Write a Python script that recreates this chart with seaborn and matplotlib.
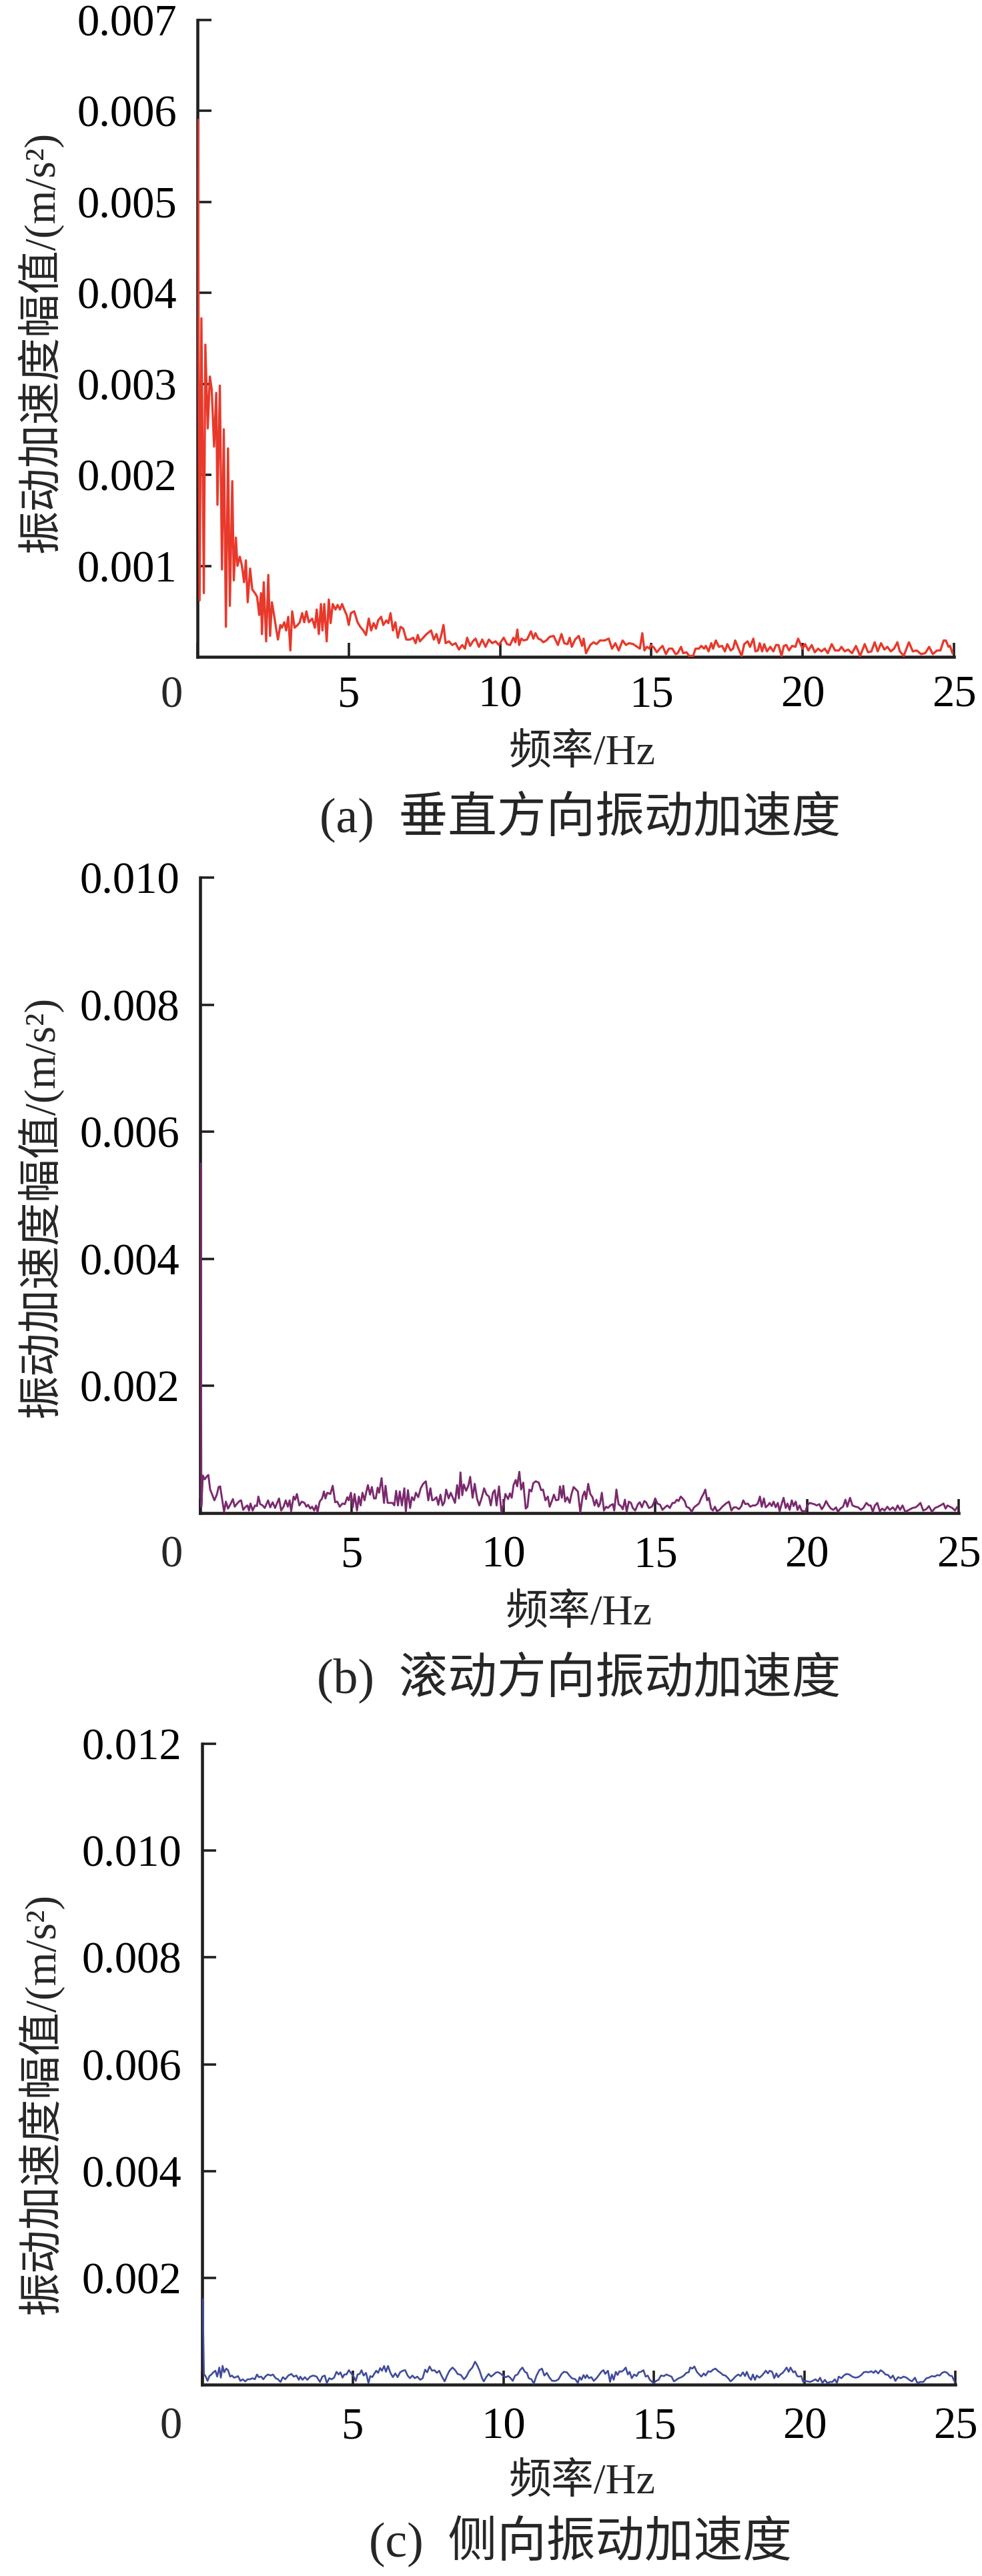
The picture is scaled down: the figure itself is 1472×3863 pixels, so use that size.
import matplotlib
matplotlib.use("Agg")
import matplotlib.pyplot as plt
import seaborn as sns

# ---- data ----
# (a) vertical acceleration spectrum
freq_a = [
    0.02, 0.04, 0.07, 0.13, 0.21, 0.26, 0.34, 0.41, 0.47, 0.55,
    0.62, 0.66, 0.74, 0.81, 0.87, 0.94, 1.01, 1.07, 1.15, 1.20,
    1.27, 1.32, 1.40, 1.47, 1.54, 1.60, 1.66, 1.74, 1.81, 1.90,
    1.97, 2.04, 2.10, 2.13, 2.19, 2.27, 2.34, 2.40, 2.46, 2.54,
    2.59, 2.66, 2.74, 2.79, 2.87, 2.93, 3.00, 3.07, 3.13, 3.21,
    3.31, 3.38, 3.46, 3.53, 3.60, 3.68, 3.79, 3.88, 3.94, 4.01,
    4.08, 4.13, 4.19, 4.27, 4.34, 4.40, 4.47, 4.56, 4.63, 4.71,
    4.78, 4.85, 4.93, 5.00, 5.07, 5.18, 5.29, 5.38, 5.48, 5.57,
    5.66, 5.74, 5.82, 5.90, 5.97, 6.07, 6.14, 6.24, 6.31, 6.38,
    6.46, 6.54, 6.62, 6.71, 6.80, 6.90, 7.02, 7.13, 7.21, 7.28,
    7.35, 7.46, 7.57, 7.72, 7.81, 7.90, 7.98, 8.05, 8.13, 8.20,
    8.31, 8.42, 8.53, 8.64, 8.75, 8.84, 8.91, 9.01, 9.10, 9.19,
    9.30, 9.41, 9.52, 9.63, 9.74, 9.85, 9.96,
    10.12, 10.23, 10.33, 10.44, 10.51, 10.57, 10.63, 10.70, 10.78, 10.89,
    11.02, 11.10, 11.17, 11.26, 11.34, 11.43, 11.53, 11.64, 11.77, 11.91,
    12.03, 12.12, 12.23, 12.30, 12.37, 12.48, 12.60, 12.71, 12.76, 12.84,
    12.98, 13.09, 13.19, 13.30, 13.46, 13.59, 13.70, 13.81, 13.92, 14.05,
    14.16, 14.26, 14.40, 14.53, 14.62, 14.70, 14.77, 14.85, 14.94, 14.98,
    15.09, 15.18, 15.28, 15.37, 15.48, 15.58, 15.69, 15.80, 15.87, 15.98,
    16.05, 16.16, 16.25, 16.38, 16.46, 16.57, 16.65, 16.74, 16.80, 16.89,
    16.98, 17.04, 17.13, 17.23, 17.34, 17.43, 17.51, 17.62, 17.70, 17.77,
    17.88, 17.98, 18.07, 18.18, 18.26, 18.37, 18.44, 18.52, 18.58, 18.66,
    18.73, 18.82, 18.93, 19.03, 19.12, 19.20, 19.30, 19.38, 19.46, 19.55,
    19.65, 19.76, 19.85, 19.94, 20.00, 20.08, 20.19, 20.30, 20.40, 20.51,
    20.62, 20.73, 20.83, 20.96, 21.07, 21.20, 21.28, 21.39, 21.50, 21.63,
    21.76, 21.90, 22.05, 22.16, 22.27, 22.38, 22.48, 22.59, 22.70, 22.80,
    22.91, 23.02, 23.13, 23.21, 23.34, 23.51, 23.64, 23.77, 23.91, 24.05,
    24.18, 24.30, 24.44, 24.55, 24.66, 24.73, 24.82, 24.87, 24.95,
]
amp_a = [
    0.0059, 0.0030, 0.00062, 0.00372, 0.0007, 0.00343, 0.00251, 0.00308, 0.00294, 0.00231,
    0.0029, 0.00167, 0.00298, 0.00096, 0.0025, 0.00033, 0.00229, 0.00056, 0.00193, 0.00084,
    0.00131, 0.001, 0.0011, 0.001, 0.00082, 0.00106, 0.0006, 0.00097, 0.00074, 0.0007,
    0.00066, 0.00046, 0.0007, 0.00025, 0.00082, 0.00017, 0.0009, 0.00023, 0.0006, 0.00044,
    0.00033, 0.00019, 0.00035, 0.00032, 0.00038, 0.00029, 0.00044, 0.00007, 0.0005, 0.00032,
    0.00035, 0.00038, 0.00048, 0.00038, 0.0005, 0.00038, 0.00042, 0.00032, 0.00052, 0.00025,
    0.00058, 0.00029, 0.00058, 0.00017, 0.00063, 0.00037, 0.00058, 0.00052, 0.00057, 0.00052,
    0.00058, 0.00052, 0.00046, 0.00035, 0.00048, 0.0005, 0.00038, 0.00033, 0.00029, 0.00024,
    0.00042, 0.00029, 0.00037, 0.00031, 0.0004, 0.00044, 0.00035, 0.0004, 0.00037, 0.00048,
    0.00029, 0.00038, 0.00021, 0.00033, 0.00031, 0.00019, 0.00019, 0.00021, 0.00015, 0.00024,
    0.00017, 0.00021, 0.00025, 0.00029, 0.00019, 0.00025, 0.00015, 0.00023, 0.00035, 0.00015,
    0.00017, 0.00013, 0.00015, 0.00008, 0.00013, 0.00009, 0.00021, 0.00012, 0.00017, 0.0002,
    0.00011, 0.00019, 0.00011, 0.00019, 0.00015, 0.00017, 0.00013,
    0.00021, 0.00014, 0.00013, 0.00021, 0.00016, 0.0003, 0.00013, 0.0002, 0.00018, 0.00019,
    0.00028, 0.0002, 0.00026, 0.0002, 0.00019, 0.00016, 0.00018, 0.00022, 0.00023, 0.00013,
    0.00025, 0.00015, 0.00014, 0.00021, 0.00011, 0.00019, 0.00023, 0.00012, 0.0002, 0.00004,
    0.00013, 0.00016, 0.00014, 0.00018, 0.00018, 0.0002, 0.00009, 0.00015, 0.00007, 0.00018,
    0.00013, 0.00015, 0.00014, 0.00011, 0.00009, 0.00026, 0.00007, 0.00011, 0.00009, 0.00013,
    0.0001, 0.00005, 0.00009, 0.00012, 0.00003, 0.00009, 0.00009, 0.00003, 0.00004, 0.00011,
    0.00004, 0.00005, 0.00001, 0.00001, 0.00009, 0.00009, 0.00012, 0.00009, 0.00012, 0.00006,
    0.00015, 0.00009, 0.00018, 0.00011, 0.00012, 0.00006, 0.00014, 0.00007, 0.00009, 0.00018,
    0.00009, 0.00001, 0.00014, 0.00017, 0.00011, 0.0002, 0.00006, 0.00007, 0.00015, 0.00006,
    0.00014, 0.00006, 0.00011, 0.00006, 0.00013, 0.00013, 0.00001, 0.00012, 0.00013, 0.00007,
    0.00012, 0.00011, 0.0002, 0.00013, 0.00009, 0.00014, 0.00007, 0.00013, 0.00005, 0.00009,
    0.00006, 0.00009, 0.00004, 0.00014, 0.00007, 0.00007, 0.00011, 0.00006, 0.00008, 0.00004,
    0.00012, 0.00001, 0.00014, 0.00005, 0.00006, 0.00016, 0.00006, 0.00015, 0.00008, 0.00011,
    0.00006, 0.00009, 0.00016, 0.00006, 0.00001, 0.00016, 0.00006, 0.00007, 0.00003, 0.00004,
    0.00011, 0.00003, 0.00007, 0.00007, 0.00018, 0.00018, 0.00011, 0.00012, 0.00004,
]

# (b) roll acceleration spectrum
freq_b = [
    0.02, 0.04, 0.09, 0.15, 0.21, 0.27, 0.33, 0.39, 0.47, 0.55,
    0.61, 0.66, 0.73, 0.79, 0.85, 0.92, 1.00, 1.08, 1.14, 1.22,
    1.30, 1.35, 1.42, 1.50, 1.56, 1.61, 1.66, 1.73, 1.81, 1.87,
    1.92, 1.98, 2.06, 2.13, 2.24, 2.31, 2.39, 2.47, 2.53, 2.60,
    2.67, 2.75, 2.82, 2.89, 2.95, 3.00, 3.08, 3.13, 3.19, 3.27,
    3.35, 3.44, 3.50, 3.56, 3.63, 3.69, 3.76, 3.82, 3.87, 3.94,
    4.02, 4.08, 4.13, 4.19, 4.29, 4.37, 4.45, 4.52, 4.60, 4.69,
    4.77, 4.85, 4.90, 4.97, 5.03, 5.09, 5.17, 5.23, 5.29, 5.35,
    5.42, 5.48, 5.53, 5.60, 5.66, 5.73, 5.79, 5.85, 5.90, 5.98,
    6.06, 6.11, 6.18, 6.26, 6.34, 6.40, 6.46, 6.52, 6.58, 6.65,
    6.73, 6.78, 6.85, 6.92, 6.98, 7.05, 7.11, 7.19, 7.27, 7.35,
    7.44, 7.52, 7.59, 7.65, 7.71, 7.79, 7.85, 7.92, 7.99, 8.05,
    8.11, 8.19, 8.26, 8.34, 8.40, 8.47, 8.53, 8.58, 8.64, 8.69,
    8.77, 8.84, 8.90, 8.98, 9.05, 9.13, 9.20, 9.28, 9.36, 9.44,
    9.52, 9.58, 9.65, 9.71, 9.77, 9.85, 9.93, 10.01, 10.06, 10.15,
    10.21, 10.27, 10.33, 10.40, 10.45, 10.52, 10.58, 10.65, 10.73, 10.79,
    10.85, 10.92, 10.98, 11.06, 11.16, 11.24, 11.30, 11.38, 11.46, 11.52,
    11.60, 11.66, 11.73, 11.81, 11.86, 11.92, 11.97, 12.03, 12.10, 12.18,
    12.24, 12.31,
    12.45, 12.53, 12.61, 12.67, 12.72, 12.79, 12.86, 12.93, 13.00, 13.06,
    13.13, 13.18, 13.24, 13.31, 13.38, 13.44, 13.52, 13.60, 13.65, 13.72,
    13.79, 13.87, 13.93, 14.00, 14.06, 14.13, 14.20, 14.26, 14.34, 14.43,
    14.49, 14.56, 14.64, 14.70, 14.79, 14.89, 14.95, 15.00, 15.07, 15.16,
    15.24, 15.32, 15.40, 15.48, 15.57, 15.64, 15.71, 15.77, 15.84, 15.90,
    15.97, 16.03, 16.12, 16.20, 16.28, 16.36, 16.44, 16.53, 16.59, 16.65,
    16.71, 16.77, 16.84, 16.90, 16.97, 17.03, 17.12, 17.21, 17.33, 17.43,
    17.51, 17.59, 17.67, 17.76, 17.84, 17.90, 17.97, 18.05, 18.13, 18.22,
    18.30, 18.38, 18.45, 18.51, 18.58, 18.64, 18.71, 18.77, 18.84, 18.90,
    18.97, 19.04, 19.10, 19.17, 19.23, 19.30, 19.36, 19.43, 19.50, 19.56,
    19.63, 19.69, 19.76, 19.82, 19.89, 19.95, 20.01, 20.09, 20.16, 20.24,
    20.32, 20.41, 20.49, 20.57, 20.63, 20.71, 20.79, 20.87, 20.96, 21.02,
    21.10, 21.19, 21.27, 21.33, 21.42, 21.50, 21.60, 21.69, 21.78, 21.86,
    21.96, 22.04, 22.10, 22.17, 22.24, 22.32, 22.40, 22.48, 22.56, 22.65,
    22.73, 22.83, 22.91, 22.99, 23.07, 23.15, 23.24, 23.36, 23.48, 23.58,
    23.66, 23.74, 23.83, 23.93, 24.02, 24.12, 24.22, 24.32, 24.40, 24.50,
    24.57, 24.63, 24.71, 24.79, 24.88, 24.96,
]
amp_b = [
    0.0055, 0.0001, 0.00059, 0.00053, 0.00057, 0.0006, 0.00037, 0.0003, 0.0002, 0.00029,
    0.00041, 0.00042, 0.0002, 0.00002, 0.00018, 0.00007, 0.00014, 0.00022, 0.0001, 0.00015,
    0.00019, 0.0002, 0.00005, 0.0001, 0.00012, 0.00004, 0.00015, 0.00004, 0.00012, 0.00011,
    0.00026, 0.00014, 0.00012, 0.00008, 0.0002, 0.00009, 0.00017, 0.00008, 0.00015, 0.00023,
    0.00004, 0.0001, 0.0002, 0.0001, 0.0002, 0.00003, 0.00026, 0.00021, 0.0003, 0.00012,
    0.00018, 0.00016, 0.0001, 0.00013, 0.00007, 0.0001, 0.00004, 0.00012, 0.00002, 0.00018,
    0.00023, 0.00034, 0.00023, 0.00032, 0.0003, 0.00043, 0.00017, 0.00018, 0.0001, 0.00015,
    0.00014, 0.00025, 0.0002, 0.00032, 0.00009, 0.0003, 0.00004, 0.00026, 0.00012, 0.00032,
    0.0002, 0.00034, 0.00044, 0.00029, 0.00041, 0.00023, 0.00023, 0.0004, 0.00032, 0.00055,
    0.00016, 0.00043, 0.00016, 0.00016, 0.00016, 0.00012, 0.00035, 0.00012, 0.00034, 0.00012,
    0.00039, 0.00002, 0.00036, 0.00008, 0.00025, 0.0002, 0.00032, 0.00025, 0.00039, 0.00046,
    0.0005, 0.0002, 0.00039, 0.0002, 0.00021, 0.00025, 0.00013, 0.00029, 0.00012, 0.00017,
    0.00037, 0.00023, 0.00032, 0.00023, 0.00016, 0.00044, 0.00023, 0.00064, 0.00028, 0.00045,
    0.00035, 0.00043, 0.00057, 0.00024, 0.00046, 0.00022, 0.00012, 0.00024, 0.00039, 0.00029,
    0.00026, 0.00012, 0.00032, 0.00036, 0.00012, 0.00042, 0.00002, 0.00015, 0.0003, 0.00022,
    0.00031, 0.00024, 0.00044, 0.00052, 0.00042, 0.00065, 0.00037, 0.00048, 0.00007, 0.0001,
    0.00037, 0.00034, 0.00047, 0.0005, 0.00048, 0.00036, 0.00037, 0.0002, 0.00026, 0.0001,
    0.0002, 0.00029, 0.0002, 0.00021, 0.00042, 0.00024, 0.00043, 0.00018, 0.00025, 0.00016,
    0.0003, 0.00041,
    0.00034, 0.00001, 0.00027, 0.00034, 0.00022, 0.00046, 0.0003, 0.00025, 0.00012, 0.00021,
    0.0001, 0.00015, 0.00032, 0.00004, 0.0001, 0.00008, 0.00012, 0.00014, 0.00004, 0.00037,
    0.00014, 0.00011, 0.00006, 0.00021, 0.00002, 0.00018, 0.00016, 0.00008, 0.00004, 0.00014,
    0.00017, 0.00009, 0.00019, 0.00017, 0.00008, 0.0001, 0.00016, 0.00023, 0.00015, 0.00013,
    0.00005, 0.00009, 0.00012, 0.00008, 0.00016, 0.00016, 0.00021, 0.00019, 0.00026, 0.00023,
    0.00019, 0.0001, 0.00008, 0.00002, 0.00009, 0.00012, 0.00015, 0.00025, 0.0003, 0.00037,
    0.0002, 0.00024, 0.00007, 0.00004, 0.0001, 0.00003, 0.00005, 0.0001, 0.00015, 0.00018,
    0.00004, 0.00009, 0.00009, 0.00006, 0.00011, 0.0002, 0.00014, 0.00015, 0.0001, 0.00012,
    0.00012, 0.00015, 0.00026, 0.0001, 0.00023, 0.00009, 0.00012, 0.00016, 0.00011, 0.00018,
    0.00009, 0.00016, 0.00003, 0.00015, 0.00024, 0.00008, 0.00015, 0.00005, 0.0002, 0.00011,
    0.00018, 0.00005, 0.00012, 0.00004, 0.00003, 0.00002, 0.00012, 0.00016, 0.00015, 0.00014,
    0.00012, 0.00014, 0.00006, 0.00012, 0.00019, 0.00012, 0.00007, 0.00005, 0.00009, 0.00002,
    0.00007, 0.0001, 0.00021, 0.0001, 0.00024, 0.00012, 0.0001, 0.00009, 0.00005, 0.00008,
    0.00016, 0.00012, 0.00012, 0.00002, 0.00012, 0.00016, 0.00003, 0.00007, 0.00004, 0.0001,
    0.00005, 0.00009, 0.00004, 0.00012, 0.00005, 0.00012, 0.00002, 0.00005, 0.00008, 0.00009,
    0.00012, 0.00016, 0.00004, 0.00006, 0.00011, 0.00002, 0.00008, 0.0001, 0.00012, 0.00015,
    0.00007, 0.00012, 0.0001, 0.00008, 0.00004, 0.0001,
]

# (c) lateral acceleration spectrum
freq_c = [
    0.02, 0.06, 0.12, 0.18, 0.24, 0.31, 0.37, 0.44, 0.50, 0.57,
    0.62, 0.68, 0.73, 0.80, 0.86, 0.93, 0.99, 1.06, 1.12, 1.19,
    1.27, 1.35, 1.43, 1.51, 1.59, 1.67, 1.75, 1.82, 1.88, 1.96,
    2.03, 2.11, 2.19, 2.27, 2.35, 2.44, 2.52, 2.60, 2.68, 2.76,
    2.86, 2.96, 3.04, 3.13, 3.21, 3.26, 3.33, 3.41, 3.49, 3.59,
    3.69, 3.80, 3.91, 3.99, 4.07, 4.14, 4.22, 4.30, 4.38, 4.46,
    4.53, 4.59, 4.66, 4.72, 4.79, 4.87, 4.95, 5.03, 5.10, 5.16,
    5.23, 5.29, 5.36, 5.44, 5.52, 5.58, 5.65, 5.71, 5.78, 5.84,
    5.91, 5.97, 6.04, 6.10, 6.17, 6.25, 6.33, 6.41, 6.49, 6.57,
    6.66, 6.74, 6.82, 6.90, 6.98, 7.06, 7.14, 7.24, 7.32, 7.40,
    7.47, 7.55, 7.63, 7.71, 7.79, 7.87, 7.95, 8.05, 8.13, 8.21,
    8.31, 8.40, 8.48, 8.59, 8.69, 8.77, 8.86, 8.97, 9.06, 9.14,
    9.21, 9.29, 9.35, 9.43, 9.51, 9.59, 9.68, 9.76, 9.84, 9.92,
    10.00, 10.08, 10.16, 10.24, 10.31, 10.39, 10.47, 10.55, 10.63, 10.71,
    10.78, 10.84, 10.93, 11.01, 11.10, 11.19, 11.28, 11.36, 11.44, 11.53,
    11.62, 11.73, 11.83, 11.93, 12.01, 12.11, 12.19, 12.27,
    12.39, 12.47, 12.53, 12.59, 12.66, 12.72, 12.77, 12.84, 12.92, 13.00,
    13.09, 13.17, 13.25, 13.32, 13.38, 13.47, 13.54, 13.60, 13.66, 13.73,
    13.79, 13.85, 13.91, 13.99, 14.06, 14.13, 14.19, 14.26, 14.34, 14.42,
    14.49, 14.57, 14.65, 14.72, 14.79, 14.86, 14.94, 15.00, 15.07, 15.15,
    15.23, 15.33, 15.41, 15.49, 15.58, 15.66, 15.74, 15.82, 15.91, 15.99,
    16.07, 16.15, 16.20, 16.27, 16.34, 16.42, 16.50, 16.57, 16.65, 16.71,
    16.80, 16.88, 16.96, 17.04, 17.13, 17.21, 17.29, 17.37, 17.46, 17.54,
    17.62, 17.70, 17.79, 17.87, 17.95, 18.02, 18.08, 18.15, 18.22, 18.28,
    18.35, 18.41, 18.50, 18.58, 18.64, 18.71, 18.78, 18.84, 18.92, 18.99,
    19.06, 19.12, 19.19, 19.27, 19.34, 19.40, 19.47, 19.53, 19.62, 19.68,
    19.75, 19.81, 19.89, 19.95, 20.01, 20.09, 20.18, 20.26, 20.36, 20.44,
    20.51, 20.59, 20.67, 20.75, 20.84, 20.92, 21.00, 21.07, 21.13, 21.22,
    21.30, 21.38, 21.48, 21.58, 21.68, 21.78, 21.88, 21.96, 22.04, 22.12,
    22.21, 22.29, 22.35, 22.44, 22.52, 22.60, 22.68, 22.77, 22.85, 22.93,
    23.01, 23.10, 23.19, 23.28, 23.38, 23.47, 23.56, 23.66, 23.74, 23.84,
    23.94, 24.04, 24.12, 24.22, 24.32, 24.40, 24.48, 24.56, 24.65, 24.73,
    24.81, 24.89, 24.98,
]
amp_c = [
    0.0016, 0.0002, 0.00015, 0.00007, 0.00016, 0.00019, 0.00023, 0.00026, 0.00015, 0.00032,
    0.00013, 0.00035, 0.00023, 0.0003, 0.00027, 0.00015, 0.00017, 0.00013, 0.00014, 0.00016,
    0.00007, 0.0001, 0.00006, 0.0001, 0.0001, 0.00012, 0.0001, 0.00019, 0.00014, 0.00015,
    0.0001, 0.00016, 0.00019, 0.00017, 0.00019, 0.00012, 0.0001, 0.00005, 0.00014, 0.0001,
    0.00017, 0.0002, 0.00015, 0.00017, 0.00009, 0.00015, 0.00009, 0.00014, 0.00009, 0.00015,
    0.00017, 0.00015, 0.00005, 0.00015, 0.00017, 0.00003, 0.00012, 0.0001, 0.00013, 0.00024,
    0.00019, 0.00023, 0.00013, 0.00019, 0.00019, 0.00027, 0.00021, 0.00015, 0.00007, 0.00019,
    0.0002, 0.00027, 0.00017, 0.00022, 0.00003, 0.00016, 0.00014, 0.0002, 0.00026, 0.00022,
    0.00031, 0.00026, 0.00035, 0.00024, 0.00035, 0.00022, 0.00014, 0.00021, 0.00014, 0.00023,
    0.00026, 0.00027, 0.00017, 0.00012, 0.00017, 0.00012, 0.00015, 0.00009, 0.00012, 0.00028,
    0.00023, 0.00034, 0.00026, 0.00027, 0.00022, 0.00026, 0.00016, 0.00006, 0.00017, 0.00026,
    0.00032, 0.00027, 0.0002, 0.00018, 0.0001, 0.00015, 0.00025, 0.00032, 0.00043, 0.00035,
    0.00026, 0.00012, 0.00006, 0.00014, 0.0002, 0.00015, 0.00019, 0.00023, 0.00023, 0.0002,
    0.00016, 0.00014, 0.00016, 0.00012, 0.00007, 0.00017, 0.00019, 0.00027, 0.00032, 0.00024,
    0.00022, 0.00012, 0.0001, 0.00002, 0.00017, 0.00027, 0.0003, 0.00017, 0.00022, 0.00013,
    0.00007, 0.00007, 0.0001, 0.0002, 0.00024, 0.00023, 0.00017, 0.00012,
    0.0001, 0.00003, 0.00014, 0.00009, 0.00018, 0.00012, 0.00018, 0.00012, 0.00014, 0.00007,
    0.00012, 0.00018, 0.00024, 0.00027, 0.0002, 0.00026, 0.00005, 0.00019, 0.00009, 0.00024,
    0.00018, 0.00025, 0.00024, 0.00027, 0.00032, 0.00019, 0.00024, 0.00012, 0.00019, 0.00016,
    0.00023, 0.00024, 0.00027, 0.00015, 0.00017, 0.00009, 0.00005, 0.00003, 0.00007, 0.00009,
    0.00017, 0.00016, 0.00019, 0.00017, 0.00015, 0.00006, 0.00009, 0.00012, 0.00014, 0.00017,
    0.00022, 0.00023, 0.00032, 0.0003, 0.00034, 0.00024, 0.00019, 0.00015, 0.00021, 0.00017,
    0.00025, 0.00024, 0.00028, 0.0003, 0.00025, 0.00022, 0.00018, 0.00017, 0.00012, 0.00006,
    0.0001, 0.00015, 0.00019, 0.00016, 0.00023, 0.00016, 0.00024, 0.00014, 0.00009, 0.00019,
    0.00009, 0.00017, 0.00013, 0.00017, 0.00021, 0.00026, 0.00021, 0.00026, 0.00024, 0.00012,
    0.00021, 0.00014, 0.00019, 0.00022, 0.00027, 0.00032, 0.00024, 0.00032, 0.00023, 0.00025,
    0.00016, 0.00015, 0.00016, 0.00005, 0.00007, 0.00006, 0.00005, 0.00007, 0.0001, 0.00006,
    0.00013, 0.00003, 0.00009, 0.00003, 0.00005, 0.00005, 0.0001, 0.00003, 0.00015, 0.00012,
    0.00017, 0.0002, 0.00019, 0.00015, 0.00013, 0.00014, 0.00018, 0.00023, 0.00024, 0.00023,
    0.00025, 0.00022, 0.00026, 0.00021, 0.00027, 0.00024, 0.00019, 0.00018, 0.00012, 0.00017,
    0.00007, 0.00014, 0.00012, 0.00015, 0.00013, 0.00009, 0.00006, 0.00013, 0.00003, 0.00005,
    0.00005, 0.00012, 0.00013, 0.00016, 0.00015, 0.00018, 0.00017, 0.00022, 0.00024, 0.00022,
    0.00017, 0.00016, 0.00005,
]

xticks = [0, 5, 10, 15, 20, 25]
xtick_labels = ["", "5", "10", "15", "20", "25"]
yticks_a = [0.001, 0.002, 0.003, 0.004, 0.005, 0.006, 0.007]
ylabels_a = ["0.001", "0.002", "0.003", "0.004", "0.005", "0.006", "0.007"]
yticks_b = [0.002, 0.004, 0.006, 0.008, 0.010]
ylabels_b = ["0.002", "0.004", "0.006", "0.008", "0.010"]
yticks_c = [0.002, 0.004, 0.006, 0.008, 0.010, 0.012]
ylabels_c = ["0.002", "0.004", "0.006", "0.008", "0.010", "0.012"]
ytops = [0.007, 0.010, 0.012]
captions = ["(a)  垂直方向振动加速度", "(b)  滚动方向振动加速度", "(c)  侧向振动加速度"]
xlabel_text = "频率/Hz"
ylabel_text = "振动加速度幅值/(m/s²)"
colors = ["#E8392B", "#7A2A6E", "#404C9C"]

# ---- plotting ----
sns.set_style("ticks")
plt.rcParams["font.family"] = ["Liberation Serif", "Noto Sans CJK SC"]

W, H = 1472, 3863
fig = plt.figure(figsize=(W / 100, H / 100), dpi=100)

# pixel layout of each panel: left, right, top, bottom (axes box)
boxes = [(296, 1430, 29.6, 985), (300, 1437, 1316, 2269), (303, 1432, 2615, 3576)]
zero_pos = [(257, 1013), (257, 2302), (256, 3609)]      # digit top
xlab_pos = [(873, 1146), (868, 2436), (873, 3739)]      # baseline
ylab_pos = [(60, 513), (60, 1810), (61, 3155)]
cap_pos = [(870, 1248), (868, 2539), (870, 3833)]       # baseline
xpads = [20, 24, 24]
ypads = [22, 22, 22]
lws = [2.4, 2.1, 1.9]
tick_fs = 48

series = [(freq_a, amp_a, yticks_a, ylabels_a),
          (freq_b, amp_b, yticks_b, ylabels_b),
          (freq_c, amp_c, yticks_c, ylabels_c)]

ink = "#231F20"

def fx(px):
    return px / W

def fy(py):
    return 1 - py / H

for i, (fr, am, yt, yl) in enumerate(series):
    l, r, t, b = boxes[i]
    ax = fig.add_axes([fx(l), fy(b), (r - l) / W, (b - t) / H])
    sns.lineplot(x=fr, y=am, ax=ax, color=colors[i], linewidth=lws[i],
                 estimator=None, sort=False, zorder=3)
    ax.set_xlim(0, 25)
    ax.set_ylim(0, ytops[i])
    ax.set_xticks(xticks)
    ax.set_xticklabels(xtick_labels)
    ax.set_yticks(yt)
    ax.set_yticklabels(yl)
    ax.set_xlabel("")
    ax.set_ylabel("")
    sns.despine(ax=ax)
    for s in ["left", "bottom"]:
        ax.spines[s].set_linewidth(3.3)
        ax.spines[s].set_color(ink)
        ax.spines[s].set_zorder(2)
    ax.tick_params(direction="in", length=15, width=2.6, colors=ink,
                   labelsize=tick_fs, labelcolor="black")
    ax.tick_params(axis="x", pad=xpads[i])
    ax.tick_params(axis="y", pad=ypads[i])

    fig.text(fx(zero_pos[i][0]), fy(zero_pos[i][1]), "0", fontsize=tick_fs,
             ha="center", va="top")
    fig.text(fx(xlab_pos[i][0]), fy(xlab_pos[i][1]), xlabel_text, fontsize=46,
             ha="center", va="baseline")
    fig.text(fx(ylab_pos[i][0]), fy(ylab_pos[i][1]), ylabel_text, fontsize=47,
             ha="center", va="center", rotation=90)
    fig.text(fx(cap_pos[i][0]), fy(cap_pos[i][1]), captions[i], fontsize=53,
             ha="center", va="baseline")

fig.savefig("out.png", dpi=100)
plt.close(fig)
